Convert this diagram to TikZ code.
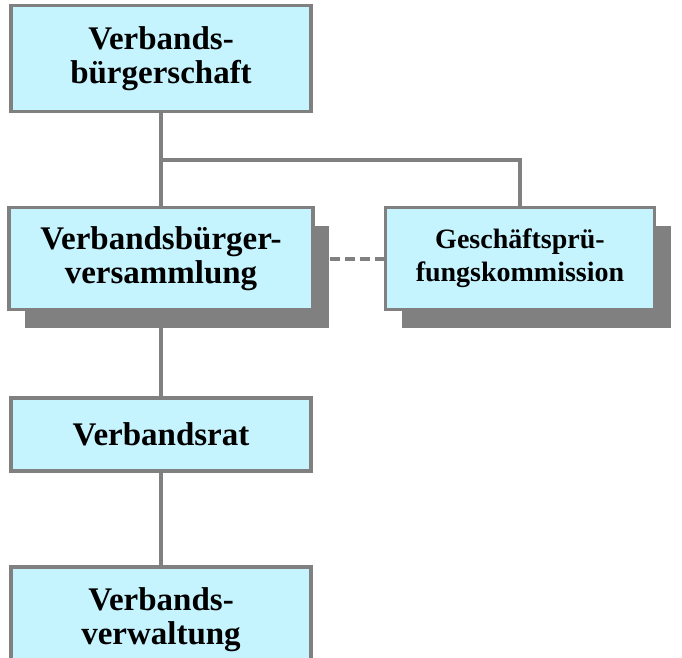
\documentclass[tikz,border=0pt]{standalone}
\usepackage{fontspec}
\setmainfont{Liberation Serif}
\usetikzlibrary{calc, shadows}
\pgfdeclarelayer{background}
\pgfsetlayers{background,main}

\definecolor{boxfill}{HTML}{C6F4FE}
\definecolor{boxline}{HTML}{808080}

\tikzset{
    orgbox/.style={draw=boxline, line width=3.5pt, fill=boxfill, align=center,
        inner sep=0pt, font=\bfseries\fontsize{33}{34}\selectfont},
    shadowbox/.style={orgbox, drop shadow={shadow xshift=16pt, shadow yshift=-18pt,
        fill=boxline, opacity=1}},
    link/.style={draw=boxline, line width=4pt}
}

\begin{document}
\begin{tikzpicture}[x=1pt, y=-1pt]
    \useasboundingbox (0,0) rectangle (682,657);
    \clip (0,0) rectangle (682,657);

    \node[orgbox, minimum width=300pt, minimum height=106pt] (buerger) at (161,58.5)
        {Verbands-\\bürgerschaft};
    \node[shadowbox, minimum width=304pt, minimum height=102pt] (versamm) at (161,258.5)
        {Verbandsbürger-\\versammlung};
    \node[shadowbox, minimum width=269pt, minimum height=102pt,
        font=\bfseries\fontsize{28}{33}\selectfont] (gpk) at (520,258.5)
        {Geschäftsprü-\\fungskommission};
    \node[orgbox, minimum width=300pt, minimum height=73pt] (rat) at (161,434.5)
        {Verbandsrat};
    \node[orgbox, minimum width=300pt, minimum height=108pt] (verwalt) at (161,621)
        {\raisebox{9pt}{\begin{tabular}{@{}c@{}}Verbands-\\verwaltung\end{tabular}}};

    \begin{pgfonlayer}{background}
        \coordinate (fork) at ($(buerger.south)!0.5!(versamm.north)$);
        \draw[link] (buerger.south) -- (versamm.north);
        \draw[link] (fork) -| (gpk.north);
        \draw[link] (versamm.south) -- (rat.north);
        \draw[link] (rat.south) -- (verwalt.north);
        \draw[link, yshift=-4pt, dash pattern=on 10pt off 5pt] (versamm.east) -- (gpk.west);
    \end{pgfonlayer}
\end{tikzpicture}
\end{document}
